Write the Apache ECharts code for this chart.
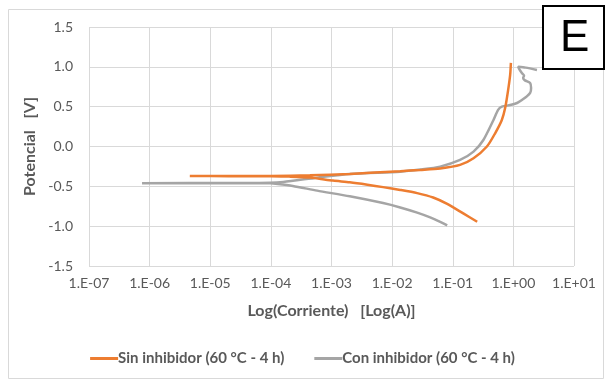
<!DOCTYPE html>
<html>
<head>
<meta charset="utf-8">
<script src="https://cdn.jsdelivr.net/npm/echarts@6/dist/echarts.min.js"></script>
<style>
  html, body { margin: 0; padding: 0; background: #fff; }
  #chart { width: 605px; height: 379px; }
</style>
</head>
<body>
<div id="chart"></div>
<script>
// curva sin inhibidor: [corriente (A), potencial (V)]
var sinInhibidor = [
    [0.253, -0.945], [0.149, -0.84], [0.081, -0.72], [0.0475, -0.64], [0.0259, -0.585],
    [0.0136, -0.545], [0.0071, -0.51], [0.0039, -0.48], [0.002, -0.45], [0.00106, -0.428],
    [0.00044, -0.39], [0.0002, -0.378], [0.0001, -0.374], [0.00002, -0.372], [0.0000046, -0.37],
    [0.00002, -0.371], [0.0001, -0.37], [0.00044, -0.362], [0.002, -0.344], [0.0136, -0.31],
    [0.029, -0.294], [0.062, -0.275], [0.132, -0.231], [0.22, -0.148], [0.366, 0.0],
    [0.5, 0.166], [0.645, 0.333], [0.733, 0.485], [0.82, 0.71], [0.885, 0.898],
    [0.91, 1.05]
];
// curva con inhibidor
var conInhibidor = [
    [0.081, -0.99], [0.062, -0.945], [0.0424, -0.89], [0.0259, -0.83], [0.0136, -0.765],
    [0.0071, -0.71], [0.002, -0.625], [0.00058, -0.554], [0.00023, -0.495],
    [0.00013, -0.47], [0.000097, -0.462], [0.00002, -0.46], [0.00000075, -0.46], [0.00002, -0.459],
    [0.000097, -0.455], [0.00016, -0.445], [0.00058, -0.391], [0.002, -0.344], [0.0136, -0.316],
    [0.029, -0.29], [0.062, -0.253], [0.132, -0.169], [0.22, -0.064], [0.32, 0.082],
    [0.47, 0.333], [0.56, 0.46], [0.645, 0.5], [0.885, 0.52], [1.15, 0.546],
    [1.38, 0.584], [1.64, 0.625], [1.89, 0.672], [1.96, 0.735], [1.89, 0.797],
    [1.55, 0.83], [1.45, 0.86], [1.5, 0.89], [1.38, 0.923], [1.25, 0.97],
    [1.2, 1.002], [1.6, 0.99], [2.45, 0.96]
];
var nombres = ['Sin inhibidor (60 °C - 4 h)', 'Con inhibidor (60 °C - 4 h)'];
var colores = ['#ED7D31', '#A5A5A5'];
var yTicks = { min: -1.5, max: 1.5, step: 0.5 };
var xTicks = { min: 1e-7, max: 10 };

var fuente = 'Lato';

function etiquetaLog(v) {
    var e = Math.round(Math.log10(v));
    var s = e < 0 ? '-' : '+';
    var a = Math.abs(e);
    return '1.E' + s + (a < 10 ? '0' + a : a);
}

var myChart = echarts.init(document.getElementById('chart'));
var option = {
    animation: false,
    color: colores,
    grid: {
        left: 89,
        right: 31,
        top: 27,
        bottom: 113
    },
    legend: {
        top: 346,
        left: 'center',
        itemGap: 30,
        itemWidth: 28,
        itemHeight: 3,
        icon: 'rect',
        textStyle: {
            fontFamily: fuente,
            fontSize: 15,
            fontWeight: 'bold',
            color: '#595959',
            padding: [0, 0, 0, -5]
        },
        data: nombres
    },
    xAxis: {
        type: 'log',
        logBase: 10,
        min: xTicks.min,
        max: xTicks.max,
        interval: 1,
        name: 'Log(Corriente)   [Log(A)]',
        nameLocation: 'middle',
        nameGap: 37,
        nameTextStyle: {
            fontFamily: fuente,
            fontSize: 16,
            fontWeight: 'bold',
            color: '#595959'
        },
        axisLine: { show: false },
        axisTick: { show: false },
        axisLabel: {
            margin: 10,
            fontFamily: fuente,
            fontSize: 14,
            color: '#595959',
            formatter: etiquetaLog
        },
        splitLine: {
            show: true,
            lineStyle: { color: '#d9d9d9', width: 1 }
        }
    },
    yAxis: {
        type: 'value',
        min: yTicks.min,
        max: yTicks.max,
        interval: yTicks.step,
        name: 'Potencial   [V]',
        nameLocation: 'middle',
        nameGap: 45,
        nameTextStyle: {
            fontFamily: fuente,
            fontSize: 16,
            fontWeight: 'bold',
            color: '#595959'
        },
        axisLine: { show: false },
        axisTick: { show: false },
        axisLabel: {
            margin: 16,
            fontFamily: fuente,
            fontSize: 14,
            color: '#595959',
            formatter: function (v) { return v.toFixed(1); }
        },
        splitLine: {
            show: true,
            lineStyle: { color: '#d9d9d9', width: 1 }
        }
    },
    graphic: [
        {
            type: 'rect',
            left: 6,
            top: 7,
            shape: { width: 595, height: 369 },
            style: { fill: 'none', stroke: '#d9d9d9', lineWidth: 1 },
            z: -10
        },
        {
            type: 'rect',
            left: 542,
            top: 5,
            shape: { width: 61, height: 63 },
            style: { fill: '#fff', stroke: '#000', lineWidth: 2 },
            z: 100
        },
        {
            type: 'text',
            left: 560,
            top: 17,
            style: {
                text: 'E',
                fontFamily: 'Liberation Sans',
                fontSize: 44,
                fill: '#000'
            },
            z: 101
        }
    ],
    series: [
        {
            name: nombres[0],
            type: 'line',
            showSymbol: false,
            smooth: 0.25,
            lineStyle: { width: 2.5, color: colores[0] },
            data: sinInhibidor,
            z: 3
        },
        {
            name: nombres[1],
            type: 'line',
            showSymbol: false,
            smooth: 0.25,
            lineStyle: { width: 2.5, color: colores[1] },
            data: conInhibidor,
            z: 2
        }
    ]
};
myChart.setOption(option);
</script>
</body>
</html>
